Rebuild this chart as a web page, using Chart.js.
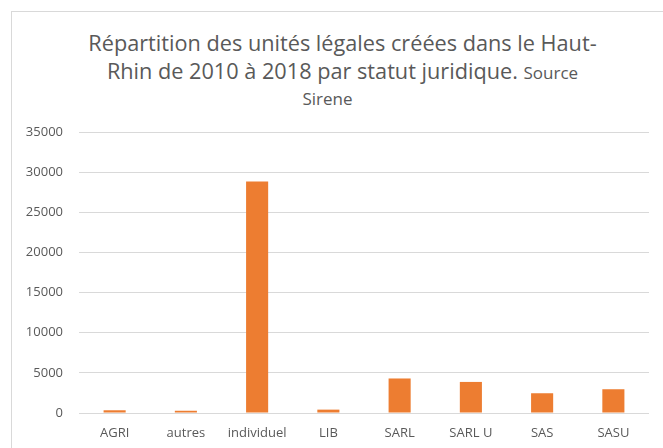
<!DOCTYPE html>
<html>
<head>
<meta charset="utf-8">
<script src="https://cdn.jsdelivr.net/npm/chart.js@4/dist/chart.umd.min.js"></script>
<style>
  body { margin: 0; background: #fff; }
  #wrap { position: relative; width: 663px; height: 448px; overflow: hidden; font-family: "Open Sans", sans-serif; color: #595959; }
  #frame { position: absolute; left: 11px; top: 11px; width: 700px; height: 500px; border: 1px solid #d9d9d9; box-sizing: border-box; }
  #chart { position: absolute; left: 0; top: 0; }
  .t { position: absolute; left: 11px; width: 663px; text-align: center; white-space: nowrap; line-height: 28px; }
  .big { font-size: 21.7px; }
  .small { font-size: 17px; }
</style>
</head>
<body>
<div id="wrap">
  <div id="frame"></div>
  <div class="t big" style="top:29px">Répartition des unités légales créées dans le Haut-</div>
  <div class="t big" style="top:57px">Rhin de 2010 à 2018 par statut juridique. <span class="small">Source</span></div>
  <div class="t small" style="top:85px;padding-right:30px;box-sizing:border-box">Sirene</div>
  <canvas id="chart" width="663" height="448"></canvas>
</div>
<script>
// ========== Data ==========
const statuts = ["AGRI", "autres", "individuel", "LIB", "SARL", "SARL U", "SAS", "SASU"];
const unites = [340, 280, 28850, 420, 4300, 3870, 2460, 2960];
const yMax = 35000;
const yStep = 5000;

const textColor = "#595959";
const gridColor = "#d9d9d9";
const barColor = "#ED7D31";

// ========== Chart ==========
new Chart(document.getElementById("chart").getContext("2d"), {
  type: "bar",
  data: {
    labels: statuts,
    datasets: [{
      label: "Unités légales",
      data: unites,
      backgroundColor: barColor,
      borderWidth: 0,
      barPercentage: 0.31,
      categoryPercentage: 1
    }]
  },
  options: {
    responsive: false,
    animation: false,
    devicePixelRatio: 1,
    layout: { padding: { left: 0, right: 14, top: 132, bottom: 0 } },
    plugins: {
      legend: { display: false },
      title: { display: false },
      tooltip: { enabled: false }
    },
    scales: {
      x: {
        grid: { display: false, drawTicks: false },
        border: { display: false },
        ticks: { color: textColor, font: { family: "Open Sans", size: 13 }, padding: 12, maxRotation: 0 },
        afterFit: s => { s.height = 35; }
      },
      y: {
        min: 0,
        max: yMax,
        grid: { color: gridColor, lineWidth: 1, drawTicks: false },
        border: { display: false },
        ticks: {
          stepSize: yStep,
          color: textColor,
          font: { family: "Open Sans", size: 13 },
          padding: 16,
          callback: v => String(v)
        },
        afterFit: s => { s.width = 79; }
      }
    }
  }
});
</script>
</body>
</html>
